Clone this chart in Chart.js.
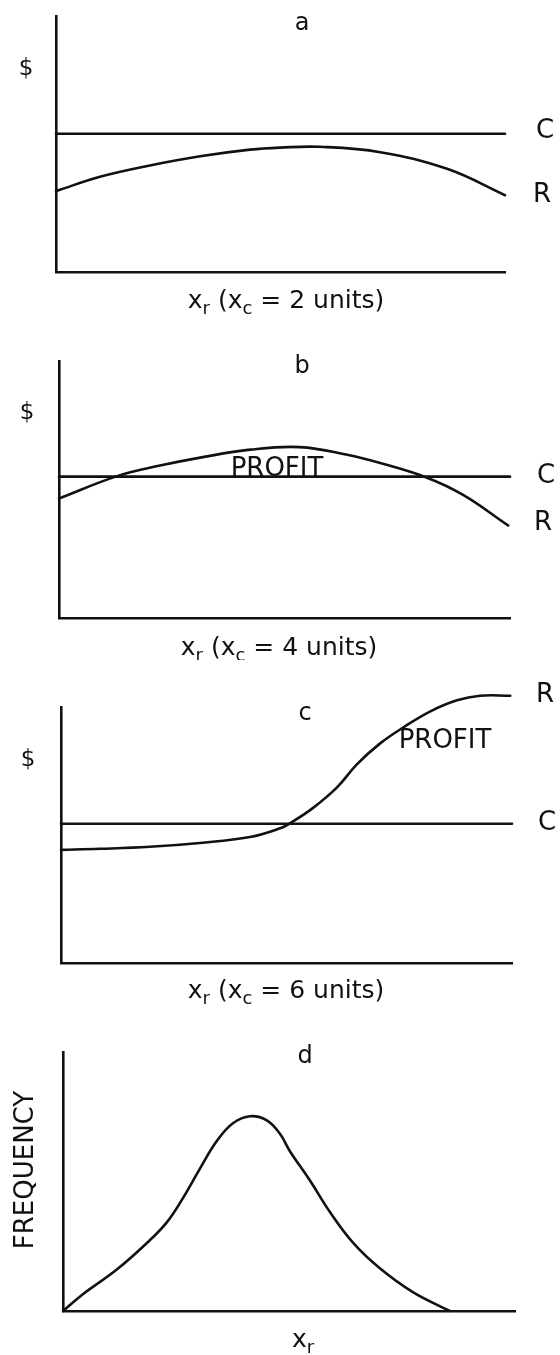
<!DOCTYPE html>
<html>
<head>
<meta charset="utf-8">
<script src="https://cdn.jsdelivr.net/npm/chart.js@4.4.0/dist/chart.umd.min.js"></script>
<style>
  html, body { margin: 0; padding: 0; background: #fff; }
  #wrap { position: relative; width: 560px; height: 1355px; overflow: hidden; background: #fff; }
  #wrap canvas { position: absolute; left: 0; }
</style>
</head>
<body>
<div id="wrap">
  <canvas id="pa" width="560" height="330" style="top:0px"></canvas>
  <canvas id="pb" width="560" height="330" style="top:330px"></canvas>
  <canvas id="pc" width="560" height="345" style="top:660px"></canvas>
  <canvas id="pd" width="560" height="350" style="top:1005px"></canvas>
</div>
<script>
// Horizontal position runs 0..100 along each x_r axis, vertical 0..100 up each $ axis.

// a: x_c = 2 units
const costA = 54;
const revAx = [0, 9.8, 20.9, 32.1, 43.2, 49.9, 58.8, 72.2, 87.1, 100];
const revAy = [31.6, 37.2, 41.6, 45.2, 47.8, 48.6, 48.9, 46.8, 40.3, 30.0];

// b: x_c = 4 units
const costB = 55;
const revBx = [0, 12.9, 22.4, 31.3, 42.4, 53.4, 63.9, 71.2, 81.6, 89.6, 99.6];
const revBy = [46.5, 55.2, 59.3, 62.4, 65.5, 66.5, 63.5, 60.3, 54.6, 47.9, 36.0];

// c: x_c = 6 units
const costC = 54.4;
const revCx = [0, 8.6, 19.7, 30.8, 41.9, 48.6, 50.8, 55.9, 61.2, 65.6, 70.7, 75.8, 81.8, 87.8, 92.9, 99.6];
const revCy = [44.2, 44.6, 45.4, 46.9, 49.2, 52.6, 54.6, 60.6, 68.6, 77.6, 85.7, 91.9, 98.2, 102.6, 104.4, 104.4];

// d: frequency of x_r
const freqX = [0, 4.4, 11.9, 19.2, 23.0, 26.5, 30.3, 34.1, 37.6, 41.4, 45.1, 48.0, 50.2, 54.6, 59.1, 64.2, 70.1, 77.4, 85.6];
const freqY = [0, 6.5, 16.0, 27.3, 34.3, 43.5, 55.0, 65.8, 72.5, 75.2, 73.6, 68.4, 61.7, 50.5, 38.1, 26.3, 16.5, 7.3, 0];

const INK = '#111111';
const FONT = '"DejaVu Sans", "Liberation Sans", sans-serif';
const LINE_W = 2.6;

const pts = (xs, ys) => xs.map((x, i) => ({ x: x, y: ys[i] }));
const flat = (v) => [{ x: 0, y: v }, { x: 100, y: v }];

// Text for each panel, in page coordinates (y = baseline)
const panelText = {
  pa: { top: 0, items: [
    { t: 'a', x: 302, y: 30, s: 24 },
    { t: '$', x: 26, y: 75, s: 23 },
    { t: 'C', x: 545, y: 138, s: 26 },
    { t: 'R', x: 542, y: 202, s: 26 },
    { rich: [['x'], ['r', 1], [' ('], ['x'], ['c', 1], [' = 2 units)']], x: 286, y: 308, s: 25 }
  ]},
  pb: { top: 330, items: [
    { t: 'b', x: 302, y: 373, s: 24 },
    { t: '$', x: 27, y: 419, s: 23 },
    { t: 'C', x: 546, y: 483, s: 26 },
    { t: 'R', x: 543, y: 530, s: 26 },
    { t: 'PROFIT', x: 277, y: 476, s: 26 },
    { rich: [['x'], ['r', 1], [' ('], ['x'], ['c', 1], [' = 4 units)']], x: 279, y: 655, s: 25 }
  ]},
  pc: { top: 660, items: [
    { t: 'c', x: 305, y: 720, s: 24 },
    { t: '$', x: 28, y: 766, s: 23 },
    { t: 'R', x: 545, y: 702, s: 26 },
    { t: 'C', x: 547, y: 830, s: 26 },
    { t: 'PROFIT', x: 445, y: 748, s: 26 },
    { rich: [['x'], ['r', 1], [' ('], ['x'], ['c', 1], [' = 6 units)']], x: 286, y: 998, s: 25 }
  ]},
  pd: { top: 1005, items: [
    { t: 'd', x: 305, y: 1063, s: 24 },
    { t: 'FREQUENCY', x: 33, y: 1170, s: 26, rot: true },
    { rich: [['x'], ['r', 1]], x: 303, y: 1347, s: 25 }
  ]}
};

function drawRich(ctx, parts, cx, by, size) {
  const sub = size * 0.72;
  let w = 0;
  const widths = parts.map(p => {
    ctx.font = (p[1] ? sub : size) + 'px ' + FONT;
    const m = ctx.measureText(p[0]).width;
    w += m;
    return m;
  });
  let x = cx - w / 2;
  parts.forEach((p, i) => {
    ctx.font = (p[1] ? sub : size) + 'px ' + FONT;
    ctx.fillText(p[0], x, by + (p[1] ? size * 0.22 : 0));
    x += widths[i];
  });
}

const textPlugin = {
  id: 'panelText',
  afterDraw(chart) {
    const spec = panelText[chart.canvas.id];
    if (!spec) return;
    const ctx = chart.ctx;
    ctx.save();
    ctx.fillStyle = INK;
    ctx.textBaseline = 'alphabetic';
    spec.items.forEach(it => {
      const y = it.y - spec.top;
      if (it.rich) {
        ctx.textAlign = 'left';
        drawRich(ctx, it.rich, it.x, y, it.s);
        return;
      }
      ctx.font = it.s + 'px ' + FONT;
      ctx.textAlign = 'center';
      if (it.rot) {
        ctx.save();
        ctx.translate(it.x, y);
        ctx.rotate(-Math.PI / 2);
        ctx.fillText(it.t, 0, 0);
        ctx.restore();
      } else {
        ctx.fillText(it.t, it.x, y);
      }
    });
    ctx.restore();
  }
};

function axis() {
  return {
    type: 'linear', min: 0, max: 100,
    ticks: { display: false },
    grid: { display: false, drawTicks: false, tickLength: 0 },
    border: { display: true, color: INK, width: LINE_W },
    title: { display: false }
  };
}

function series(data) {
  return {
    data: data, borderColor: INK, borderWidth: LINE_W, pointRadius: 0,
    tension: 0.4, fill: false, clip: false,
    borderCapStyle: 'round', borderJoinStyle: 'round'
  };
}

function panel(id, pad, datasets) {
  return new Chart(document.getElementById(id), {
    type: 'line',
    data: { datasets: datasets },
    options: {
      responsive: false,
      animation: false,
      devicePixelRatio: 1,
      layout: { padding: pad },
      plugins: { legend: { display: false }, tooltip: { enabled: false } },
      scales: { x: axis(), y: axis() }
    },
    plugins: [textPlugin]
  });
}

panel('pa', { left: 56, right: 55, top: 16, bottom: 58 },
  [series(flat(costA)), series(pts(revAx, revAy))]);
panel('pb', { left: 59, right: 50, top: 31, bottom: 42 },
  [series(flat(costB)), series(pts(revBx, revBy))]);
panel('pc', { left: 61, right: 48, top: 47, bottom: 42 },
  [series(flat(costC)), series(pts(revCx, revCy))]);
panel('pd', { left: 63, right: 45, top: 47, bottom: 44 },
  [series(pts(freqX, freqY))]);
</script>
</body>
</html>
